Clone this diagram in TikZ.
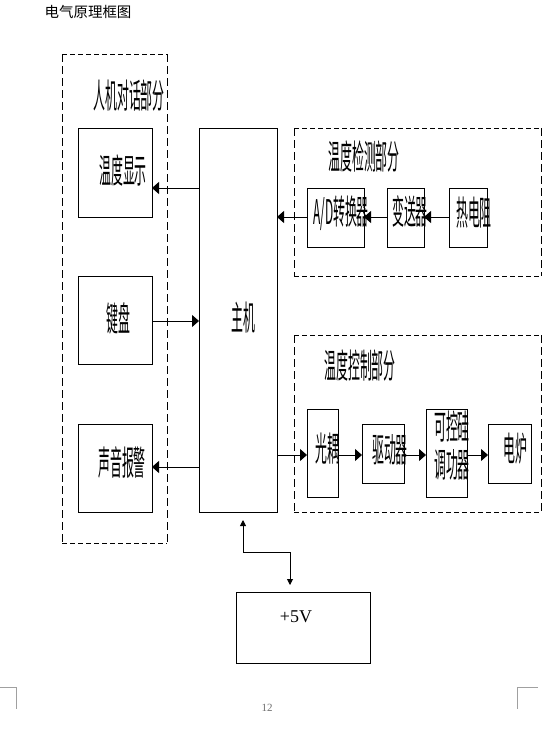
\documentclass[tikz,border=0pt]{standalone}
\usepackage{fontspec}
\usepackage{graphicx}
\setmainfont{Liberation Serif}
\newfontfamily\cjk{Noto Sans CJK SC}
\usetikzlibrary{arrows.meta,calc}
\newcommand{\narrowtext}[1]{\scalebox{0.35}[1]{\fontsize{34}{32}\selectfont\cjk #1}}
\definecolor{markgray}{RGB}{160,160,160}
\definecolor{numgray}{RGB}{110,110,110}
\tikzset{
  box/.style={draw, line width=0.9pt, inner sep=0pt, outer sep=0pt},
  region/.style={draw=none, inner sep=0pt, outer sep=0pt},
  hdash/.style={line width=0.9pt, dash pattern=on 5pt off 3pt},
  vdash/.style={line width=0.9pt, dash pattern=on 8pt off 4pt},
  lbl/.style={inner sep=0pt},
  arr/.style={line width=0.9pt, -{Triangle[length=7pt,width=12pt]}},
  parr/.style={line width=0.9pt, {Triangle[length=6pt,width=6pt]}-{Triangle[length=6pt,width=6pt]}},
  cmark/.style={line width=0.8pt, draw=markgray}
}
\begin{document}
\begin{tikzpicture}[x=1pt,y=-1pt]
\useasboundingbox (0,0) rectangle (557,739);

% title
\node[lbl, font=\cjk\fontsize{14.5}{16}\selectfont] (title) at (88,12) {电气原理框图};

% dashed regions
\node[region, minimum width=105pt, minimum height=489pt] (hmi) at (114.5,298.5) {};
\node[region, minimum width=247pt, minimum height=148pt] (det) at (417.5,202) {};
\node[region, minimum width=247pt, minimum height=177pt] (ctl) at (417.5,423.5) {};
\foreach \r in {hmi,det,ctl}{
  \draw[hdash] (\r.north west) -- (\r.north east);
  \draw[hdash] (\r.south west) -- (\r.south east);
  \draw[vdash] (\r.north west) -- (\r.south west);
  \draw[vdash] (\r.north east) -- (\r.south east);
}
\node[lbl] (hmilbl) at (129,96) {\narrowtext{人机对话部分}};
\node[lbl] (detlbl) at (364,157) {\narrowtext{温度检测部分}};
\node[lbl] (ctllbl) at (360,366) {\narrowtext{温度控制部分}};

% boxes
\node[box, minimum width=74pt, minimum height=89pt] (disp) at (115,172.5) {};
\node[box, minimum width=74pt, minimum height=88pt] (kbd) at (115,320) {};
\node[box, minimum width=74pt, minimum height=88pt] (alarm) at (115,468) {};
\node[box, minimum width=78pt, minimum height=384pt] (main) at (238,320) {};
\node[box, minimum width=57pt, minimum height=59pt] (ad) at (335.5,217.5) {};
\node[box, minimum width=37pt, minimum height=59pt] (tx) at (405.5,217.5) {};
\node[box, minimum width=38pt, minimum height=59pt] (rtd) at (468,217.5) {};
\node[box, minimum width=31pt, minimum height=88pt] (opto) at (322.5,453) {};
\node[box, minimum width=42pt, minimum height=59pt] (drv) at (383,453.5) {};
\node[box, minimum width=41pt, minimum height=88pt] (scr) at (446.5,453) {};
\node[box, minimum width=43pt, minimum height=59pt] (furn) at (509.5,453.5) {};
\node[box, minimum width=134pt, minimum height=71pt] (psu) at (303,627.5) {};

% labels
\node[lbl] (displbl) at (123,170) {\narrowtext{温度显示}};
\node[lbl] (kbdlbl) at (118,318) {\narrowtext{键盘}};
\node[lbl] (alarmlbl) at (122,463) {\narrowtext{声音报警}};
\node[lbl] (mainlbl) at (243,318) {\narrowtext{主机}};
\node[lbl] (adlbl) at (341,213) {\narrowtext{A/D转换器}};
\node[lbl] (txlbl) at (410,211) {\narrowtext{变送器}};
\node[lbl] (rtdlbl) at (474,213) {\narrowtext{热电阻}};
\node[lbl] (optolbl) at (327,449) {\narrowtext{光耦}};
\node[lbl] (drvlbl) at (390,450) {\narrowtext{驱动器}};
\node[lbl] (scrlbl) at (452,449) {\narrowtext{\begin{tabular}{@{}c@{}}可控硅\\调功器\end{tabular}}};
\node[lbl] (furnlbl) at (515,449) {\narrowtext{电炉}};
\node[lbl, font=\fontsize{18}{20}\selectfont] (psulbl) at (296,617) {+5V};

% connectors, left side
\coordinate (m1) at ([yshift=-60pt]main.north west);
\coordinate (m2) at ([yshift=-193pt]main.north west);
\coordinate (m3) at ([yshift=-339pt]main.north west);
\draw[arr] (m1) -- (m1 -| disp.east);
\draw[arr] (m2 -| kbd.east) -- (m2);
\draw[arr] (m3) -- (m3 -| alarm.east);

% detection chain
\coordinate (d1) at ([yshift=-89pt]main.north east);
\draw[arr] (d1 -| rtd.west) -- (d1 -| tx.east);
\draw[arr] (d1 -| tx.west) -- (d1 -| ad.east);
\draw[arr] (d1 -| ad.west) -- (d1);

% control chain
\coordinate (c1) at ([yshift=-327pt]main.north east);
\draw[arr] (c1) -- (c1 -| opto.west);
\draw[arr] (c1 -| opto.east) -- (c1 -| drv.west);
\draw[arr] (c1 -| drv.east) -- (c1 -| scr.west);
\draw[arr] (c1 -| scr.east) -- (c1 -| furn.west);

% power connector
\coordinate (p1) at ([xshift=5pt,yshift=-8pt]main.south);
\coordinate (p2) at ([xshift=-13pt,yshift=7pt]psu.north);
\draw[parr] (p1) -- (p1 |- 0,552) -- (p2 |- 0,552) -- (p2);

% page number and corner marks
\node[lbl, text=numgray, font=\fontsize{11}{12}\selectfont] (pagenum) at (267,708) {12};
\coordinate (cl) at (16,687);
\coordinate (cr) at (517,687);
\draw[cmark] (0,687) -- (cl) -- (16,709);
\draw[cmark] (538,687) -- (cr) -- (517,709);
\end{tikzpicture}
\end{document}
